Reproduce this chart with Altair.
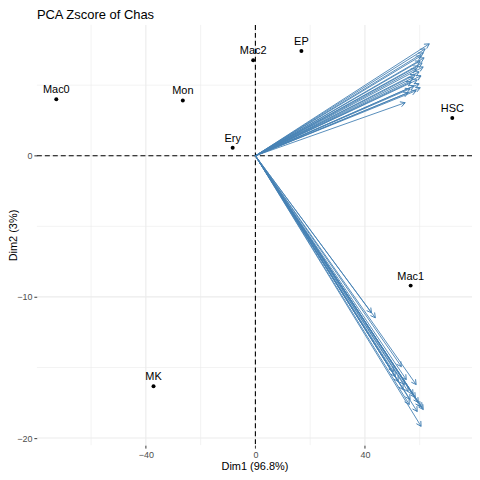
import math

import pandas as pd
import altair as alt

# Individuals (points with labels)
sample_names = ["Mac0", "Mon", "Mac2", "Ery", "EP", "HSC", "Mac1", "MK"]
sample_dim1 = [-72.7, -26.5, -0.8, -8.3, 16.8, 71.9, 56.7, -37.2]
sample_dim2 = [4.0, 3.92, 6.77, 0.56, 7.43, 2.68, -9.2, -16.33]

# Variable arrows pointing up-right
upper_dim1 = [63.5, 62.0, 61.3, 60.5, 61.6, 60.2, 60.9, 59.5, 61.3, 58.7, 59.8, 58.4,
              60.5, 57.6, 59.1, 56.9, 59.8, 58.0, 56.5, 58.7, 55.8, 60.2, 54.7]
upper_dim2 = [7.93, 7.57, 7.29, 7.08, 6.94, 6.72, 6.58, 6.37, 6.30, 6.16, 5.95, 5.74,
              5.67, 5.53, 5.38, 5.24, 5.10, 4.96, 4.75, 4.61, 4.47, 4.82, 3.76]

# Variable arrows pointing down-right
lower_dim1 = [43.8, 42.4, 53.3, 51.1, 55.1, 58.7, 56.5, 59.5, 61.3, 60.5, 57.6,
              54.0, 52.2, 55.8, 60.2, 59.1, 56.2, 50.4, 58.4, 60.9, 54.4]
lower_dim2 = [-11.48, -11.13, -14.94, -15.65, -15.86, -16.21, -17.27, -17.48, -17.98,
              -19.17, -16.92, -16.57, -16.0, -16.71, -17.76, -18.12, -17.62, -15.29,
              -17.13, -17.84, -16.21]

x_major = [-40, 0, 40]
x_minor = [-60, -20, 20, 60]
y_major = [-20, -10, 0]
y_minor = [-15, -5, 5]

X_DOMAIN = [-79.8, 79.1]
Y_DOMAIN = [-20.5, 9.27]
W, H = 437, 422

points = pd.DataFrame({"name": sample_names, "dim1": sample_dim1, "dim2": sample_dim2})

arrows = pd.DataFrame({
    "dim1": upper_dim1 + lower_dim1,
    "dim2": upper_dim2 + lower_dim2,
})
arrows["x0"] = 0.0
arrows["y0"] = 0.0
# Screen-space direction of each arrow so the head can be rotated to match
sx = W / (X_DOMAIN[1] - X_DOMAIN[0])
sy = H / (Y_DOMAIN[1] - Y_DOMAIN[0])
arrows["angle"] = [
    math.degrees(math.atan2(-y * sy, x * sx)) % 360
    for x, y in zip(arrows["dim1"], arrows["dim2"])
]

x_scale = alt.Scale(domain=X_DOMAIN, nice=False, zero=False)
y_scale = alt.Scale(domain=Y_DOMAIN, nice=False, zero=False)

x_axis = alt.Axis(values=x_major, grid=False, domain=False, tickColor="#333333",
                  tickSize=3, labelColor="#4d4d4d", labelFontSize=9, labelPadding=2,
                  titleFontSize=11, titleFontWeight="normal", titleColor="black",
                  titlePadding=1)
y_axis = alt.Axis(values=y_major, grid=False, domain=False, tickColor="#333333",
                  tickSize=3, labelColor="#4d4d4d", labelFontSize=9, labelPadding=2,
                  titleFontSize=11, titleFontWeight="normal", titleColor="black",
                  titleX=-20, titleBaseline="alphabetic")

base = alt.Chart(points)

grid_x_major = alt.Chart(pd.DataFrame({"v": x_major})).mark_rule(
    color="#ebebeb", strokeWidth=1.1
).encode(x=alt.X("v:Q", scale=x_scale, axis=x_axis, title="Dim1 (96.8%)"))
grid_x_minor = alt.Chart(pd.DataFrame({"v": x_minor})).mark_rule(
    color="#ebebeb", strokeWidth=0.6
).encode(x=alt.X("v:Q", scale=x_scale))
grid_y_major = alt.Chart(pd.DataFrame({"v": y_major})).mark_rule(
    color="#ebebeb", strokeWidth=1.1
).encode(y=alt.Y("v:Q", scale=y_scale, axis=y_axis, title="Dim2 (3%)"))
grid_y_minor = alt.Chart(pd.DataFrame({"v": y_minor})).mark_rule(
    color="#ebebeb", strokeWidth=0.6
).encode(y=alt.Y("v:Q", scale=y_scale))

zero_v = alt.Chart(pd.DataFrame({"v": [0]})).mark_rule(
    color="black", strokeWidth=1.1, strokeDash=[5, 3]
).encode(x=alt.X("v:Q", scale=x_scale))
zero_h = alt.Chart(pd.DataFrame({"v": [0]})).mark_rule(
    color="black", strokeWidth=1.1, strokeDash=[5, 3]
).encode(y=alt.Y("v:Q", scale=y_scale))

shafts = alt.Chart(arrows).mark_rule(color="#4682b4", strokeWidth=0.9).encode(
    x=alt.X("x0:Q", scale=x_scale),
    y=alt.Y("y0:Q", scale=y_scale),
    x2="dim1:Q",
    y2="dim2:Q",
)
heads = alt.Chart(arrows).mark_point(
    shape="M0,0L-1,-0.55M0,0L-1,0.55", filled=False, color="#4682b4",
    strokeWidth=0.9, size=90, opacity=1
).encode(
    x=alt.X("dim1:Q", scale=x_scale),
    y=alt.Y("dim2:Q", scale=y_scale),
    angle=alt.Angle("angle:Q", scale=None),
)

dots = base.mark_circle(color="black", size=16, opacity=1).encode(
    x=alt.X("dim1:Q", scale=x_scale),
    y=alt.Y("dim2:Q", scale=y_scale),
)
labels = base.mark_text(fontSize=11, dy=-9, color="black").encode(
    x=alt.X("dim1:Q", scale=x_scale),
    y=alt.Y("dim2:Q", scale=y_scale),
    text="name:N",
)

chart = alt.layer(
    grid_x_minor, grid_y_minor, grid_x_major, grid_y_major,
    zero_v, zero_h, shafts, heads, dots, labels,
).properties(
    width=W,
    height=H,
    autosize=alt.AutoSizeParams(type="none"),
    padding={"left": 29, "top": 16, "right": 0, "bottom": 26},
    title=alt.TitleParams("PCA Zscore of Chas", anchor="start", frame="group",
                          fontSize=13, fontWeight="normal", color="black",
                          offset=2),
).configure(
    font="Liberation Sans",
).configure_view(
    stroke=None,
)

chart.save("out.html", embed_options={"renderer": "svg", "actions": False})
